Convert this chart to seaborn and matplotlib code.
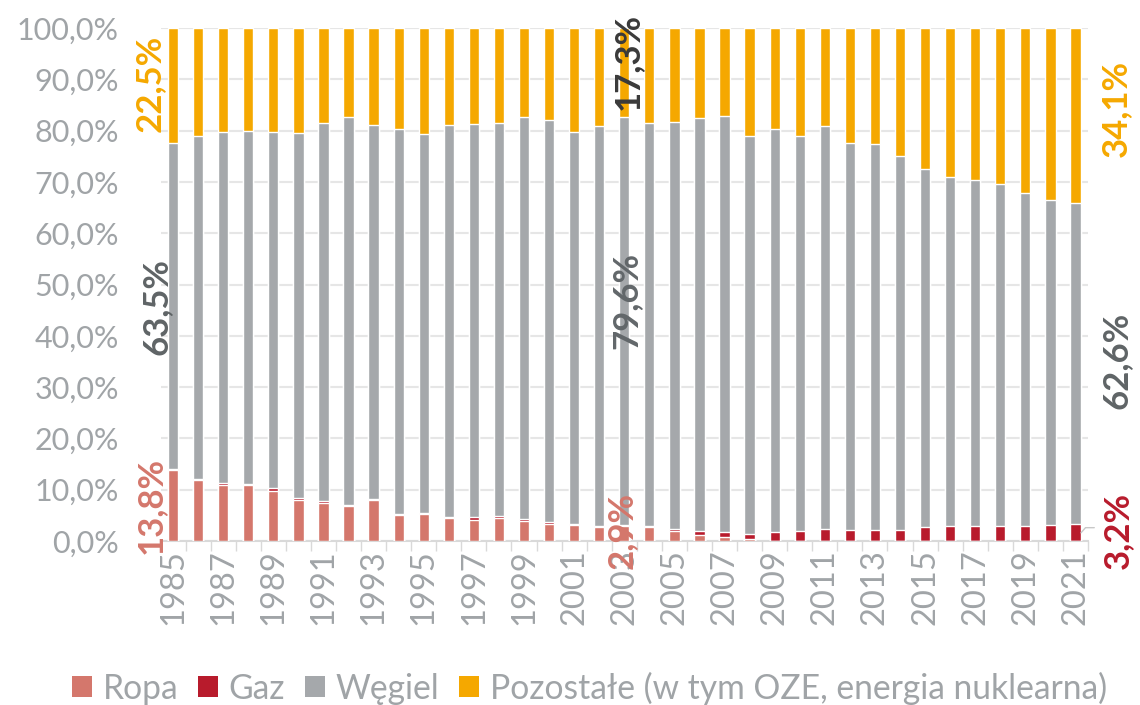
import numpy as np
import pandas as pd
import seaborn as sns
import matplotlib.pyplot as plt
from matplotlib.patches import Patch
from matplotlib.ticker import FixedLocator

# Data (shares in %)
years = list(range(1985, 2022))
ropa = [13.8, 11.8, 10.9, 10.9, 9.8, 7.9, 7.5, 6.8, 7.9, 5.0, 5.2, 4.5, 4.0, 4.4, 3.9, 3.3, 3.1, 2.8, 2.9,
        2.8, 1.9, 1.1, 0.7, 0.4, 0.1, 0.1, 0.1, 0.1, 0.1, 0.1, 0.1, 0.1, 0.1, 0.1, 0.1, 0.1, 0.1]
gaz = [0.2, 0.3, 0.4, 0.3, 0.5, 0.4, 0.3, 0.3, 0.3, 0.3, 0.2, 0.2, 0.6, 0.4, 0.3, 0.4, 0.3, 0.2, 0.2,
       0.2, 0.4, 0.8, 1.0, 0.9, 1.6, 1.8, 2.2, 2.1, 2.0, 2.1, 2.7, 2.9, 2.9, 2.8, 2.9, 3.0, 3.2]
wegiel = [63.5, 66.8, 68.5, 68.8, 69.4, 71.3, 73.7, 75.5, 72.8, 75.0, 74.0, 76.3, 76.6, 76.6, 78.4, 78.4,
          76.4, 77.8, 79.6, 78.4, 79.3, 80.6, 81.1, 77.7, 78.6, 77.1, 78.5, 75.3, 75.2, 72.8, 69.8, 68.0,
          67.3, 66.7, 64.9, 63.4, 62.6]
pozostale = [22.5, 21.1, 20.2, 20.0, 20.3, 20.4, 18.5, 17.4, 19.0, 19.7, 20.6, 19.0, 18.8, 18.6, 17.4, 17.9,
             20.2, 19.2, 17.3, 18.6, 18.4, 17.5, 17.2, 21.0, 19.7, 21.0, 19.2, 22.5, 22.7, 25.0, 27.4, 29.0,
             29.7, 30.4, 32.1, 33.5, 34.1]

series_names = ['Ropa', 'Gaz', 'Węgiel', 'Pozostałe (w tym OZE, energia nuklearna)']
colors = ['#d4776c', '#b81b2c', '#a5a8ab', '#f5a800']

df = pd.DataFrame({'Rok': [str(y) for y in years], 'Ropa': ropa, 'Gaz': gaz,
                   'Węgiel': wegiel, 'Pozostałe': pozostale})
# cumulative tops for stacking
df['c1'] = df['Ropa']
df['c2'] = df['c1'] + df['Gaz']
df['c3'] = df['c2'] + df['Węgiel']
df['c4'] = df['c3'] + df['Pozostałe']

sns.set_style('white')
plt.rcParams['font.family'] = ['Lato', 'DejaVu Sans']

fig = plt.figure(figsize=(11.4, 7.05), dpi=100)
ax = fig.add_axes([0.1408, 0.2326, 0.8136, 0.7277])

# draw from the top segment down so each layer covers the one below
for col, c in zip(['c4', 'c3', 'c2', 'c1'], colors[::-1]):
    sns.barplot(data=df, x='Rok', y=col, color=c, saturation=1, width=0.41,
                errorbar=None, ax=ax, zorder=3)

ax.set_ylim(0, 100)
ax.set_xlim(-0.5, len(years) - 0.5)
ax.set_xlabel('')
ax.set_ylabel('')

tick_grey = '#a0a4a7'
ax.set_yticks(np.arange(0, 101, 10))
ax.set_yticklabels([f'{v:.1f}%'.replace('.', ',') for v in np.arange(0, 101, 10)])
ax.yaxis.grid(True, color='#e6e6e6', lw=1.5, zorder=0)
ax.set_axisbelow(True)

idx = list(range(0, len(years), 2))
ax.set_xticks(idx)
ax.set_xticklabels([str(years[i]) for i in idx], rotation=90)
ax.xaxis.set_minor_locator(FixedLocator(np.arange(-0.5, len(years), 1)))
ax.tick_params(axis='x', which='major', length=0, pad=6, labelsize=23.5, labelcolor=tick_grey)
ax.tick_params(axis='x', which='minor', length=7, width=1, color='#d9d9d9', bottom=True)
ax.tick_params(axis='y', length=0, pad=30, labelsize=22, labelcolor=tick_grey)

for s in ['top', 'right', 'left']:
    ax.spines[s].set_visible(False)
ax.spines['bottom'].set_color('#d9d9d9')
ax.spines['bottom'].set_linewidth(1.5)

# value labels for 1985, 2003 and 2021
def fmt(v):
    return f'{v:.1f}%'.replace('.', ',')

lab_kw = dict(rotation=90, ha='center', va='center', fontsize=25, fontweight='bold', clip_on=False, zorder=5)
i85 = years.index(1985)
ax.text(i85 - 0.92, 89.2, fmt(pozostale[i85]), color='#f5a800', **lab_kw)
ax.text(i85 - 0.66, 45.8, fmt(wegiel[i85]), color='#5f6466', **lab_kw)
ax.text(i85 - 0.88, 7.0, fmt(ropa[i85]), color='#d4776c', **lab_kw)

i03 = years.index(2003)
ax.text(i03 + 0.15, 93.4, fmt(pozostale[i03]), color='#3a3a3a', **lab_kw)
ax.text(i03 + 0.1, 46.8, fmt(wegiel[i03]), color='#62676a', **lab_kw)
ax.text(i03 - 0.1, 2.0, fmt(ropa[i03]), color='#d4776c', **lab_kw)

i21 = years.index(2021)
ax.text(i21 + 1.6, 84.4, fmt(pozostale[i21]), color='#f5a800', **lab_kw)
ax.text(i21 + 1.65, 35.3, fmt(wegiel[i21]), color='#5f6466', **lab_kw)
ax.text(i21 + 1.7, 2.0, fmt(gaz[i21]), color='#b81b2c', **lab_kw)
ax.plot([i21 + 0.22, i21 + 0.4, i21 + 0.75], [1.6, 2.6, 2.6], color='#c8c8c8', lw=1, clip_on=False, zorder=4)

handles = [Patch(facecolor=c, edgecolor='none') for c in colors]
fig.legend(handles, series_names, loc='center', bbox_to_anchor=(0.517, 0.024), ncol=4, frameon=False,
           fontsize=24.2, labelcolor=tick_grey, handlelength=0.6, handleheight=0.6, handletextpad=0.3,
           columnspacing=0.6, borderpad=0)

fig.savefig('out.png', dpi=100)
